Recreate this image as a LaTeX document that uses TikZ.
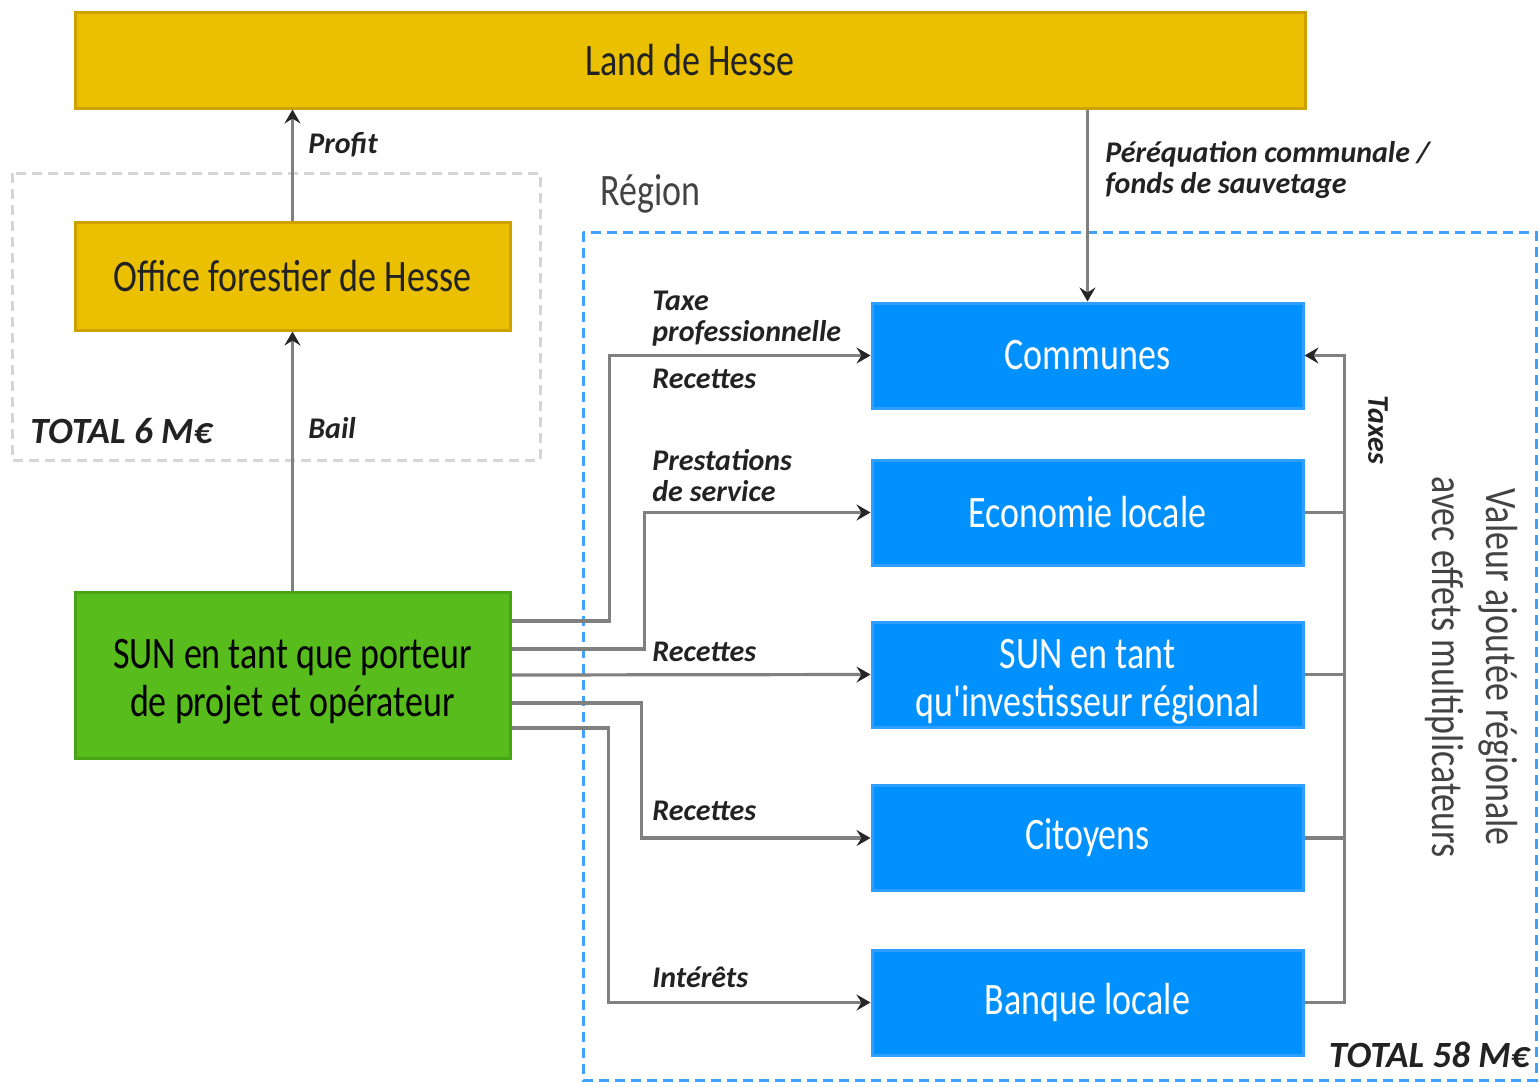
\documentclass[tikz,border=0pt]{standalone}
\usepackage{fontspec}
\setmainfont{Carlito}
\newfontfamily\boxfont[FakeStretch=0.8]{Carlito}
\newfontfamily\lblfont{Carlito}
\usetikzlibrary{arrows.meta}
\definecolor{yfill}{HTML}{EBC000}
\definecolor{ydraw}{HTML}{CDA200}
\definecolor{gfill}{HTML}{58BC1C}
\definecolor{gdraw}{HTML}{48A414}
\definecolor{bfill}{HTML}{0091FF}
\definecolor{bdraw}{HTML}{2E9EFF}
\definecolor{bdash}{HTML}{3FA2FF}
\definecolor{gdash}{HTML}{D6D6D6}
\definecolor{conncol}{HTML}{808080}
\definecolor{txt}{HTML}{222222}
\tikzset{
  box/.style={rectangle, inner sep=0pt, line width=1.5pt, font=\boxfont\fontsize{22.5}{24}\selectfont, align=center},
  boxtext/.style={inner sep=0pt, font=\boxfont\fontsize{22.5}{24}\selectfont, align=center},
  ybox/.style={box, fill=yfill, draw=ydraw, text=txt},
  gbox/.style={box, fill=gfill, draw=gdraw, text=black},
  bbox/.style={box, fill=bfill, draw=bdraw, text=white, minimum width=215.5pt, minimum height=52.5pt},
  conn/.style={draw=conncol, line width=1.6pt},
  arr/.style={conn, -{Stealth[length=7pt, width=8pt, inset=2.5pt, color=black!85]}},
  lbl/.style={inner sep=0pt, text=txt, font=\lblfont\bfseries\itshape\fontsize{15}{16}\selectfont, align=left},
  tot/.style={inner sep=0pt, text=txt, font=\lblfont\bfseries\itshape\fontsize{18.5}{20}\selectfont},
}
\begin{document}
\begin{tikzpicture}[x=0.5pt, y=-0.5pt]
\useasboundingbox (0,0) rectangle (1539,1083);
% frames
\draw[gdash, line width=1.5pt, dash pattern=on 5pt off 3pt] (12,173) rectangle (540,460);
\draw[bdash, line width=1.5pt, dash pattern=on 5pt off 3pt] (583,232) rectangle (1536,1080);
% boxes
\node[ybox, minimum width=615pt, minimum height=48pt] (land) at (690,60) {Land de Hesse};
\node[ybox, minimum width=217.5pt, minimum height=54pt] (off) at (292.5,276) {Office forestier de Hesse};
\node[gbox, minimum width=217.5pt, minimum height=83pt] (sun) at (292.5,675) {};
\node[boxtext, text=black] (suntxt) at ([yshift=-3.5pt]sun.center) {SUN en tant que porteur\\de projet et opérateur};
\node[bbox] (comm) at (1087.5,355.5) {Communes};
\node[bbox] (eco) at (1087.5,512.5) {Economie locale};
\node[bbox] (inv) at (1087.5,674.5) {};
\node[boxtext, text=white] (invtxt) at ([yshift=-3.5pt]inv.center) {SUN en tant\\qu'investisseur régional};
\node[bbox] (cit) at (1087.5,838) {Citoyens};
\node[bbox] (bank) at (1087.5,1002.5) {Banque locale};
% texts
\node[inner sep=0pt, anchor=base west, text=txt!85, font=\boxfont\fontsize{22.5}{25}\selectfont] (reg) at (600,205) {Région};
\node[tot, anchor=base west] (t6) at (30,443) {TOTAL 6 M€};
\node[tot, anchor=base east] (t58) at (1530,1067) {TOTAL 58 M€};
\node[inner sep=0pt, rotate=-90, text=txt!85, align=center, font=\boxfont\fontsize{22.5}{27}\selectfont] (val) at (1471,667) {Valeur ajoutée régionale\\avec effets multiplicateurs};
% vertical arrows
\draw[arr] (sun.north) -- (off.south);
\draw[arr] (off.north) -- (off.north |- land.south);
\draw[arr] (comm.north |- land.south) -- (comm.north);
% connectors left
\draw[arr] ([yshift=27pt]sun.east) -- ++(98,0) |- (comm.west);
\draw[arr] ([yshift=13pt]sun.east) -- ++(133,0) |- (eco.west);
\draw[arr] (sun.east) -- (inv.west);
\draw[arr] ([yshift=-14pt]sun.east) -- ++(130,0) |- (cit.west);
\draw[arr] ([yshift=-26.5pt]sun.east) -- ++(97,0) |- (bank.west);
% connectors right
\draw[arr] (bank.east) -- ++(40,0) |- (comm.east);
\draw[conn] (eco.east) -- ++(40,0);
\draw[conn] (inv.east) -- ++(40,0);
\draw[conn] (cit.east) -- ++(40,0);
% labels
\node[lbl, anchor=base west] (lprofit) at (308,153) {Profit};
\node[lbl, anchor=base west] (lbail) at (308,438) {Bail};
\node[lbl, anchor=base west] (lper1) at (1105,162) {Péréquation communale /};
\node[lbl, anchor=base west] (lper2) at (1105,193) {fonds de sauvetage};
\node[lbl, anchor=base west] (ltaxe1) at (652,310) {Taxe};
\node[lbl, anchor=base west] (ltaxe2) at (652,341) {professionnelle};
\node[lbl, anchor=base west] (lrec1) at (652,388) {Recettes};
\node[lbl, anchor=base west] (lpre1) at (652,470) {Prestations};
\node[lbl, anchor=base west] (lpre2) at (652,501) {de service};
\node[lbl, anchor=base west] (lrec2) at (652,661) {Recettes};
\node[lbl, anchor=base west] (lrec3) at (652,820) {Recettes};
\node[lbl, anchor=base west] (lint) at (652,987) {Intérêts};
\node[lbl, rotate=-90] (ltaxes) at (1378,430) {Taxes};
\end{tikzpicture}
\end{document}
